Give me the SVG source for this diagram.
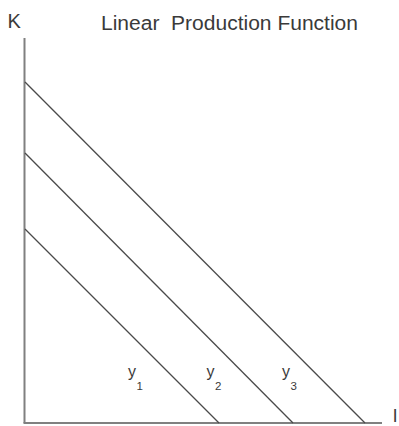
<svg xmlns="http://www.w3.org/2000/svg" width="399" height="426" viewBox="0 0 399 426">
  <style>
    .axis { stroke: #808080; stroke-width: 2; fill: none; }
    .iso { stroke: #4a4a4a; stroke-width: 1.3; fill: none; }
    .lbl { font-family: "Liberation Sans", Arial, sans-serif; fill: #3a3a3a; }
    .t { font-size: 20px; }
    .y { font-size: 16px; }
    .sub { font-size: 11.5px; }
  </style>
  <rect width="399" height="426" fill="#ffffff"/>
  <g id="title">
    <text class="lbl t" x="101" y="30" textLength="257" lengthAdjust="spacingAndGlyphs" xml:space="preserve">Linear  Production Function</text>
  </g>
  <g id="axes">
    <line class="axis" x1="24.5" y1="38" x2="24.5" y2="423"/>
    <line class="axis" x1="23.5" y1="423" x2="382" y2="423"/>
    <text class="lbl t" x="7.5" y="28">K</text>
    <text class="lbl" x="393" y="421.5" font-size="19">l</text>
  </g>
  <g id="connectors">
    <line id="iso-y1" class="iso" x1="25" y1="229" x2="219" y2="423"/>
    <line id="iso-y2" class="iso" x1="25" y1="153" x2="293" y2="423"/>
    <line id="iso-y3" class="iso" x1="25" y1="82" x2="365" y2="423"/>
  </g>
  <g id="label-y1">
    <text class="lbl y" x="128" y="377">y</text>
    <text class="lbl sub" x="136.5" y="390">1</text>
  </g>
  <g id="label-y2">
    <text class="lbl y" x="206.5" y="377">y</text>
    <text class="lbl sub" x="215" y="390">2</text>
  </g>
  <g id="label-y3">
    <text class="lbl y" x="282" y="377">y</text>
    <text class="lbl sub" x="290.5" y="390">3</text>
  </g>
</svg>
